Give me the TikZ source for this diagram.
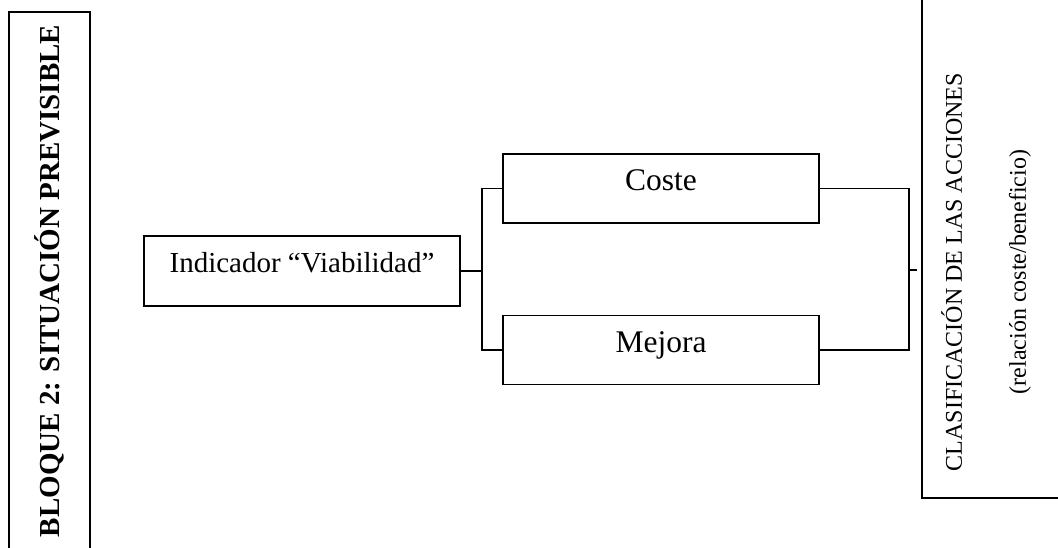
\documentclass[tikz,border=0pt]{standalone}
\usepackage{fontspec}
\setmainfont{Liberation Serif}
\usetikzlibrary{positioning}
\tikzset{
  flow box/.style={
    rectangle, draw=black, line width=1.6pt,
    minimum width=316pt, minimum height=70pt,
    inner sep=0pt, text height=0.7em, text depth=0.4em
  },
  flow line/.style={line width=1.6pt, black}
}

\begin{document}
\begin{tikzpicture}[x=1pt, y=-1pt, node distance=91pt]
    \useasboundingbox (0,0) rectangle (1058,547);
    \clip (0,0) rectangle (1058,547);
    \node[rectangle, draw, line width=1.6pt, rotate=90, minimum width=538pt, minimum height=81pt, inner sep=0pt, font=\fontsize{29}{34}\selectfont\bfseries] (bloque) at (49.5,281) {BLOQUE 2: SITUACIÓN PREVISIBLE};
    \node[flow box, font=\fontsize{29}{34}\selectfont] (ind) at (302,271) {Indicador “Viabilidad”};
    \node[flow box, minimum height=69pt, text depth=0.25em, font=\fontsize{31.5}{37}\selectfont] (coste) at (661,188.5) {Coste};
    \node[flow box, minimum height=69pt, text depth=0.25em, font=\fontsize{31.5}{37}\selectfont, below=of coste] (mejora) {Mejora};
    \node[draw, line width=1.6pt, minimum width=220pt, minimum height=560pt, anchor=south west] (clasif) at (921,499) {};
    \node[rotate=90, align=center, font=\fontsize{24}{29}\selectfont] (clasiftxt) at (986,272) {CLASIFICACIÓN DE LAS ACCIONES\\[35pt](relación coste/beneficio)};
    \coordinate (split) at (482,271);
    \coordinate (merge) at (909,270);
    \draw[flow line] (ind.east) -- (split);
    \draw[flow line] (coste.west) -| (split) |- (mejora.west);
    \draw[flow line] (coste.east) -| (merge) |- (mejora.east);
    \draw[flow line] (merge) -- ++(8,0);
\end{tikzpicture}
\end{document}
